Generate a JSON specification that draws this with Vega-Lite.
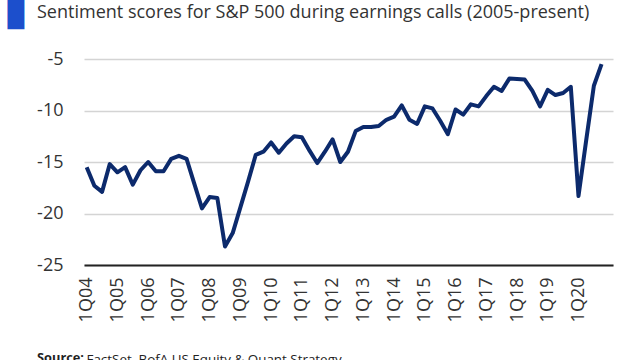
{
  "$schema": "https://vega.github.io/schema/vega-lite/v6.json",
  "autosize": "none",
  "width": 529,
  "height": 206,
  "padding": {"left": 84, "top": 59, "right": 27, "bottom": 95},
  "background": "white",
  "title": {
    "text": "Sentiment scores for S&P 500 during earnings calls (2005-present)",
    "subtitle": "Source:",
    "anchor": "start",
    "frame": "group",
    "offset": 4,
    "dx": -47,
    "dy": 366.4,
    "font": "Open Sans",
    "fontSize": 18,
    "fontWeight": "normal",
    "color": "#333333",
    "subtitleFont": "Open Sans",
    "subtitleFontSize": 12.8,
    "subtitleFontWeight": "bold",
    "subtitleColor": "#222222",
    "subtitlePadding": 329.8
  },
  "config": {
    "view": {"stroke": null},
    "font": "Open Sans"
  },
  "data": {
    "values": [
      {"t": 0, "quarter": "1Q04", "score": -15.5},
      {"t": 1, "quarter": "2Q04", "score": -17.3},
      {"t": 2, "quarter": "3Q04", "score": -17.9},
      {"t": 3, "quarter": "4Q04", "score": -15.2},
      {"t": 4, "quarter": "1Q05", "score": -16.0},
      {"t": 5, "quarter": "2Q05", "score": -15.5},
      {"t": 6, "quarter": "3Q05", "score": -17.2},
      {"t": 7, "quarter": "4Q05", "score": -15.8},
      {"t": 8, "quarter": "1Q06", "score": -15.0},
      {"t": 9, "quarter": "2Q06", "score": -15.9},
      {"t": 10, "quarter": "3Q06", "score": -15.9},
      {"t": 11, "quarter": "4Q06", "score": -14.7},
      {"t": 12, "quarter": "1Q07", "score": -14.4},
      {"t": 13, "quarter": "2Q07", "score": -14.7},
      {"t": 14, "quarter": "3Q07", "score": -17.1},
      {"t": 15, "quarter": "4Q07", "score": -19.5},
      {"t": 16, "quarter": "1Q08", "score": -18.4},
      {"t": 17, "quarter": "2Q08", "score": -18.5},
      {"t": 18, "quarter": "3Q08", "score": -23.2},
      {"t": 19, "quarter": "4Q08", "score": -21.9},
      {"t": 20, "quarter": "1Q09", "score": -19.4},
      {"t": 21, "quarter": "2Q09", "score": -16.9},
      {"t": 22, "quarter": "3Q09", "score": -14.3},
      {"t": 23, "quarter": "4Q09", "score": -14.0},
      {"t": 24, "quarter": "1Q10", "score": -13.1},
      {"t": 25, "quarter": "2Q10", "score": -14.1},
      {"t": 26, "quarter": "3Q10", "score": -13.2},
      {"t": 27, "quarter": "4Q10", "score": -12.5},
      {"t": 28, "quarter": "1Q11", "score": -12.6},
      {"t": 29, "quarter": "2Q11", "score": -13.9},
      {"t": 30, "quarter": "3Q11", "score": -15.1},
      {"t": 31, "quarter": "4Q11", "score": -14.0},
      {"t": 32, "quarter": "1Q12", "score": -12.8},
      {"t": 33, "quarter": "2Q12", "score": -15.0},
      {"t": 34, "quarter": "3Q12", "score": -14.0},
      {"t": 35, "quarter": "4Q12", "score": -12.0},
      {"t": 36, "quarter": "1Q13", "score": -11.6},
      {"t": 37, "quarter": "2Q13", "score": -11.6},
      {"t": 38, "quarter": "3Q13", "score": -11.5},
      {"t": 39, "quarter": "4Q13", "score": -10.9},
      {"t": 40, "quarter": "1Q14", "score": -10.6},
      {"t": 41, "quarter": "2Q14", "score": -9.5},
      {"t": 42, "quarter": "3Q14", "score": -10.9},
      {"t": 43, "quarter": "4Q14", "score": -11.3},
      {"t": 44, "quarter": "1Q15", "score": -9.6},
      {"t": 45, "quarter": "2Q15", "score": -9.8},
      {"t": 46, "quarter": "3Q15", "score": -11.0},
      {"t": 47, "quarter": "4Q15", "score": -12.3},
      {"t": 48, "quarter": "1Q16", "score": -9.9},
      {"t": 49, "quarter": "2Q16", "score": -10.4},
      {"t": 50, "quarter": "3Q16", "score": -9.4},
      {"t": 51, "quarter": "4Q16", "score": -9.6},
      {"t": 52, "quarter": "1Q17", "score": -8.6},
      {"t": 53, "quarter": "2Q17", "score": -7.7},
      {"t": 54, "quarter": "3Q17", "score": -8.1},
      {"t": 55, "quarter": "4Q17", "score": -6.9},
      {"t": 56, "quarter": "1Q18", "score": -6.95},
      {"t": 57, "quarter": "2Q18", "score": -7.0},
      {"t": 58, "quarter": "3Q18", "score": -8.1},
      {"t": 59, "quarter": "4Q18", "score": -9.6},
      {"t": 60, "quarter": "1Q19", "score": -8.0},
      {"t": 61, "quarter": "2Q19", "score": -8.5},
      {"t": 62, "quarter": "3Q19", "score": -8.3},
      {"t": 63, "quarter": "4Q19", "score": -7.7},
      {"t": 64, "quarter": "1Q20", "score": -18.3},
      {"t": 65, "quarter": "2Q20", "score": -12.9},
      {"t": 66, "quarter": "3Q20", "score": -7.6},
      {"t": 67, "quarter": "4Q20", "score": -5.5}
    ]
  },
  "mark": {"type": "line", "color": "#0c2a6c", "strokeWidth": 4, "strokeJoin": "round"},
  "encoding": {
    "x": {
      "field": "t",
      "type": "quantitative",
      "scale": {"domain": [-0.35, 68.49], "nice": false, "zero": false},
      "axis": {
        "values": [0, 4, 8, 12, 16, 20, 24, 28, 32, 36, 40, 44, 48, 52, 56, 60, 64],
        "labelExpr": "'1Q' + (datum.value / 4 + 4 < 10 ? '0' : '') + (datum.value / 4 + 4)",
        "labelAngle": 270,
        "labelFont": "Open Sans",
        "labelFontSize": 18,
        "labelColor": "#333333",
        "labelPadding": 12,
        "ticks": false,
        "grid": false,
        "domain": true,
        "domainColor": "#222222",
        "domainWidth": 2,
        "title": "FactSet, BofA US Equity & Quant Strategy",
        "titleFont": "Open Sans",
        "titleFontSize": 13.4,
        "titleFontWeight": "normal",
        "titleColor": "#222222",
        "titleAlign": "left",
        "titleBaseline": "alphabetic",
        "titleX": 2,
        "titleY": 98
      }
    },
    "y": {
      "field": "score",
      "type": "quantitative",
      "scale": {"domain": [-25, -5], "nice": false, "zero": false},
      "axis": {
        "values": [-25, -20, -15, -10, -5],
        "labelExpr": "datum.value < 0 ? '-' + abs(datum.value) : '' + datum.value",
        "labelFont": "Open Sans",
        "labelFontSize": 18,
        "labelColor": "#333333",
        "labelPadding": 21,
        "ticks": false,
        "domain": false,
        "grid": true,
        "gridColor": "#d4d4d4",
        "gridWidth": 1.5,
        "title": "▉",
        "titleFont": "DejaVu Sans",
        "titleFontSize": 24.5,
        "titleFontWeight": "normal",
        "titleColor": "#1c4fcc",
        "titleAngle": 0,
        "titleAlign": "left",
        "titleBaseline": "top",
        "titleX": -77,
        "titleY": -55.7
      }
    }
  }
}
